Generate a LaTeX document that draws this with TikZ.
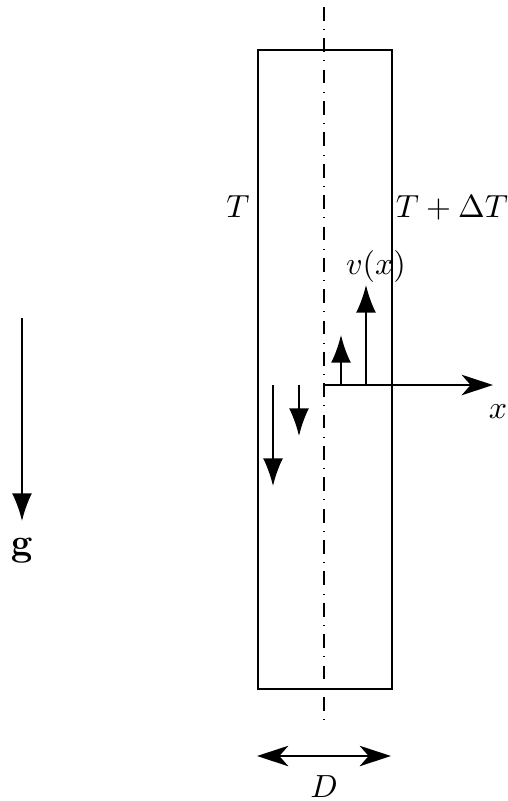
\documentclass[tikz,border=0pt]{standalone}
\usetikzlibrary{arrows.meta}
\begin{document}
\begin{tikzpicture}[x=0.3125pt,y=-0.3125pt,
  line/.style={line width=0.6pt},
  axisline/.style={line width=0.6pt, dash pattern=on 4.3pt off 2.6pt on 0.3pt off 2.6pt},
  uparrow/.style={line width=0.6pt,-{Latex[length=8.6pt,width=6.2pt]}},
  steal/.style={line width=0.6pt,-{Stealth[length=9.8pt,width=6.4pt,inset=2.8pt]}},
  dsteal/.style={line width=0.6pt,{Stealth[length=9.8pt,width=6.4pt,inset=2.8pt]}-{Stealth[length=9.8pt,width=6.4pt,inset=2.8pt]}},
  lab/.style={anchor=base,inner sep=0pt}]
\useasboundingbox (0,0) rectangle (507,801);
% channel walls
\node[draw,line,minimum width=134*0.3125pt,minimum height=639*0.3125pt,inner sep=0pt,anchor=north west] (wall) at (257,49) {};
% centre line
\coordinate (ctop) at (324,7);
\coordinate (cbot) at (324,720);
\draw[axisline] (ctop) -- (cbot);
% x axis
\coordinate (o) at (324,385);
\coordinate (xend) at (493,385);
\draw[steal] (o) -- (xend);
% velocity arrows (up)
\coordinate (u1s) at (341,385);
\coordinate (u1e) at (341,335);
\coordinate (u2s) at (366,385);
\coordinate (u2e) at (366,285);
\draw[uparrow] (u1s) -- (u1e);
\draw[uparrow] (u2s) -- (u2e);
% velocity arrows (down)
\coordinate (d1s) at (299,385);
\coordinate (d1e) at (299,436);
\coordinate (d2s) at (273,385);
\coordinate (d2e) at (273,486);
\draw[uparrow] (d1s) -- (d1e);
\draw[uparrow] (d2s) -- (d2e);
% gravity
\coordinate (gs) at (22,318);
\coordinate (ge) at (22,521);
\draw[uparrow] (gs) -- (ge);
% width D
\coordinate (dl) at (257,756);
\coordinate (dr) at (391,756);
\draw[dsteal] (dl) -- (dr);
% labels
\node[lab] (tl) at (238,217) {$T$};
\node[lab] (tr) at (452,217) {$T+\Delta T$};
\node[lab] (vx) at (376,274) {$v(x)$};
\node[lab] (xl) at (498,418) {$x$};
\node[lab] (gl) at (22,555) {\fontsize{12}{14}\selectfont$\mathbf{g}$};
\node[lab] (dlab) at (324,797) {$D$};
\end{tikzpicture}
\end{document}
